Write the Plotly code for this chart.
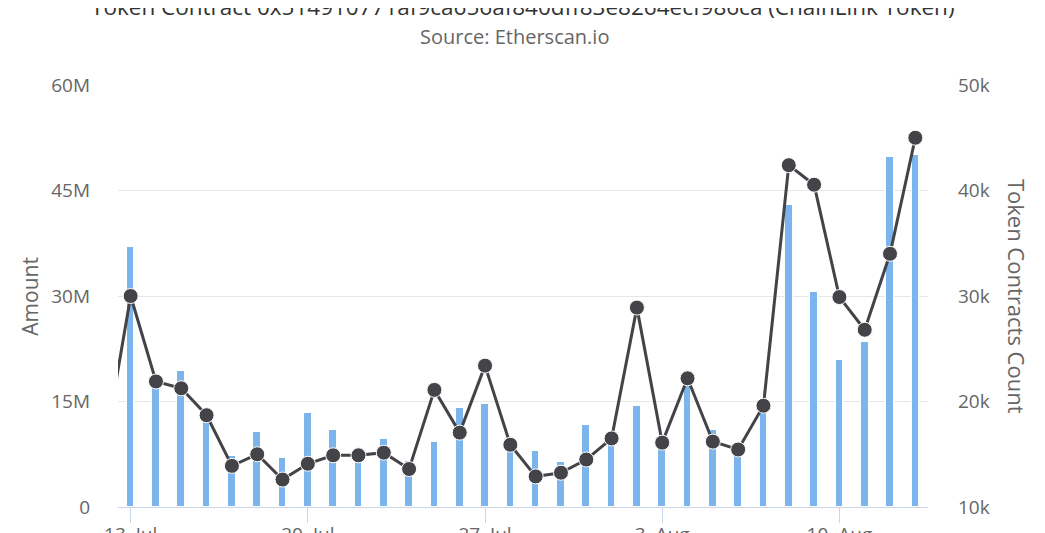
import plotly.graph_objects as go

# ---- data ----
dates = ["2020-07-12", "2020-07-13", "2020-07-14", "2020-07-15", "2020-07-16", "2020-07-17",
         "2020-07-18", "2020-07-19", "2020-07-20", "2020-07-21", "2020-07-22", "2020-07-23",
         "2020-07-24", "2020-07-25", "2020-07-26", "2020-07-27", "2020-07-28", "2020-07-29",
         "2020-07-30", "2020-07-31", "2020-08-01", "2020-08-02", "2020-08-03", "2020-08-04",
         "2020-08-05", "2020-08-06", "2020-08-07", "2020-08-08", "2020-08-09", "2020-08-10",
         "2020-08-11", "2020-08-12", "2020-08-13"]
amount = [None, 37.0e6, 17.3e6, 19.4e6, 12.1e6, 7.2e6, 10.7e6, 7.0e6, 13.4e6, 10.9e6, 6.9e6,
          9.7e6, 6.5e6, 9.2e6, 14.1e6, 14.6e6, 8.3e6, 8.0e6, 6.4e6, 11.7e6, 9.4e6, 14.4e6,
          8.6e6, 17.4e6, 10.9e6, 7.5e6, 13.4e6, 43.0e6, 30.6e6, 20.9e6, 23.4e6, 49.8e6, 50.0e6]
contracts = [16000, 30000, 21900, 21250, 18700, 13900, 15000, 12600, 14100, 14900, 14900,
             15150, 13600, 21100, 17050, 23400, 15900, 12900, 13250, 14500, 16500, 28900,
             16100, 22200, 16200, 15450, 19600, 42400, 40550, 29900, 26800, 34000, 45000]
tick_dates = ["2020-07-13", "2020-07-20", "2020-07-27", "2020-08-03", "2020-08-10"]
tick_text = ["13. Jul", "20. Jul", "27. Jul", "3. Aug", "10. Aug"]

title_text = "Token Contract 0x514910771af9ca656af840dff83e8264ecf986ca (ChainLink Token)"
subtitle_text = "Source: Etherscan.io"

FONT = "Open Sans, DejaVu Sans, sans-serif"
DAY_MS = 86400000

fig = go.Figure()
fig.add_trace(go.Bar(
    x=dates, y=amount, name="Amount", yaxis="y",
    marker=dict(color="#7cb5ec", line=dict(color="#ffffff", width=1)),
    width=0.3 * DAY_MS,
))
fig.add_trace(go.Scatter(
    x=dates, y=contracts, name="Token Contracts Count", yaxis="y2",
    mode="lines+markers",
    line=dict(color="#434348", width=3),
    marker=dict(color="#434348", size=15, line=dict(color="#ffffff", width=1)),
))

# the page body adds an 8px offset; margins compensate so the plot sits at 118..928 x 85..507
fig.update_layout(
    width=1045, height=533,
    margin=dict(l=110, r=125, t=77, b=34, autoexpand=False),
    paper_bgcolor="white", plot_bgcolor="white",
    showlegend=False,
    font=dict(family=FONT, color="#666666"),
    xaxis=dict(
        type="date", automargin=False,
        range=["2020-07-12 12:00", "2020-08-13 12:00"],
        tickvals=tick_dates, ticktext=tick_text,
        showgrid=False, showline=True, linecolor="#ccd6eb", linewidth=1,
        ticks="outside", ticklen=15, tickcolor="#ccd6eb",
        tickfont=dict(size=19, color="#666666"),
        ticklabelstandoff=-5,
        zeroline=False,
    ),
    yaxis=dict(
        automargin=False,
        range=[0, 60e6], dtick=15e6, tickformat="~s",
        showgrid=True, gridcolor="#e6e6e6", gridwidth=1,
        zeroline=False, showline=False,
        tickfont=dict(size=19, color="#666666"),
        ticklabelstandoff=27,
    ),
    yaxis2=dict(
        automargin=False,
        range=[10000, 50000], dtick=10000, tickformat="~s",
        overlaying="y", side="right",
        showgrid=False, zeroline=False, showline=False,
        tickfont=dict(size=19, color="#666666"),
        ticklabelstandoff=29,
    ),
    bargap=0,
    annotations=[
        dict(text=title_text, xref="paper", yref="paper", x=0.5, y=1.186,
             xanchor="center", yanchor="middle", showarrow=False,
             font=dict(size=22.5, color="#333333", family=FONT)),
        dict(text=subtitle_text, xref="paper", yref="paper", x=0.49, y=1.116,
             xanchor="center", yanchor="middle", showarrow=False,
             font=dict(size=20, color="#666666", family=FONT)),
        dict(text="Amount", xref="paper", yref="paper", x=-0.109, y=0.5,
             xanchor="center", yanchor="middle", showarrow=False, textangle=-90,
             font=dict(size=21, color="#666666", family=FONT)),
        dict(text="Token Contracts Count", xref="paper", yref="paper", x=1.11, y=0.5,
             xanchor="center", yanchor="middle", showarrow=False, textangle=90,
             font=dict(size=22, color="#666666", family=FONT)),
    ],
)

fig.write_html("out.html")
